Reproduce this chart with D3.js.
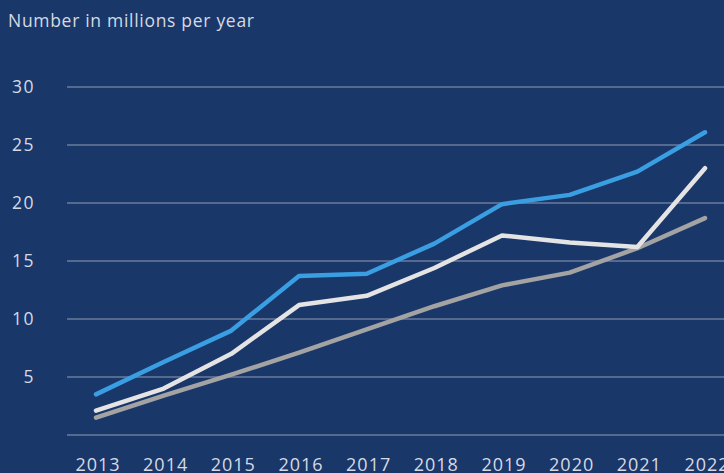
<!DOCTYPE html>
<html>
<head>
<meta charset="utf-8">
<script src="https://cdn.jsdelivr.net/npm/d3@7"></script>
<style>
	html, body { margin: 0; padding: 0; background: #1a3769; }
	svg { display: block; }
	text { font-family: 'Open Sans', Lato, sans-serif; }
</style>
</head>
<body>
<div id="chart"></div>
<script>

var years = [2013, 2014, 2015, 2016, 2017, 2018, 2019, 2020, 2021, 2022];
var blueValues = [3.5, 6.3, 9.0, 13.7, 13.9, 16.5, 19.9, 20.7, 22.7, 26.1];
var whiteValues = [2.1, 4.0, 7.0, 11.2, 12.0, 14.4, 17.2, 16.6, 16.2, 23.0];
var grayValues = [1.5, 3.4, 5.2, 7.1, 9.1, 11.1, 12.9, 14.0, 16.1, 18.7];
var yTicks = [5, 10, 15, 20, 25, 30];

var width = 724;
var height = 473;

var svg = d3.select('#chart').append('svg')
	.attr('width', width)
	.attr('height', height);

svg.append('rect').attr('width', width).attr('height', height).attr('fill', '#1a3769');

var x = d3.scalePoint().domain(years).range([96, 705]);
var y = d3.scaleLinear().domain([0, 30]).range([435, 87]);

// grid
svg.append('g').selectAll('line')
	.data([0].concat(yTicks))
	.enter().append('line')
	.attr('x1', 67)
	.attr('x2', width)
	.attr('y1', function(d) { return y(d); })
	.attr('y2', function(d) { return y(d); })
	.attr('stroke', '#6b7c9c')
	.attr('stroke-width', 1.5);

// y labels
svg.append('g').selectAll('text')
	.data(yTicks)
	.enter().append('text')
	.attr('x', 35)
	.attr('y', function(d) { return y(d) + 6; })
	.attr('text-anchor', 'end')
	.attr('font-size', 17.5)
	.attr('letter-spacing', 1.5)
	.attr('fill', '#d5dae4')
	.text(function(d) { return d; });

// x labels
svg.append('g').selectAll('text')
	.data(years)
	.enter().append('text')
	.attr('x', function(d) { return x(d) + 2; })
	.attr('y', 471)
	.attr('text-anchor', 'middle')
	.attr('font-size', 18)
	.attr('letter-spacing', 1)
	.attr('fill', '#d5dae4')
	.text(function(d) { return d; });

svg.append('text')
	.attr('x', 8)
	.attr('y', 27)
	.attr('font-size', 17.5)
	.attr('letter-spacing', 0.7)
	.attr('fill', '#d5dae4')
	.text('Number in millions per year');

var line = d3.line()
	.x(function(d, i) { return x(years[i]); })
	.y(function(d) { return y(d); });

var series = [
	{ values: grayValues, color: '#a3a3a3' },
	{ values: whiteValues, color: '#e4e4e4' },
	{ values: blueValues, color: '#3a9ee2' }
];

svg.append('g').selectAll('path')
	.data(series)
	.enter().append('path')
	.attr('d', function(d) { return line(d.values); })
	.attr('fill', 'none')
	.attr('stroke', function(d) { return d.color; })
	.attr('stroke-width', 4.5)
	.attr('stroke-linecap', 'round')
	.attr('stroke-linejoin', 'round');

</script>
</body>
</html>
